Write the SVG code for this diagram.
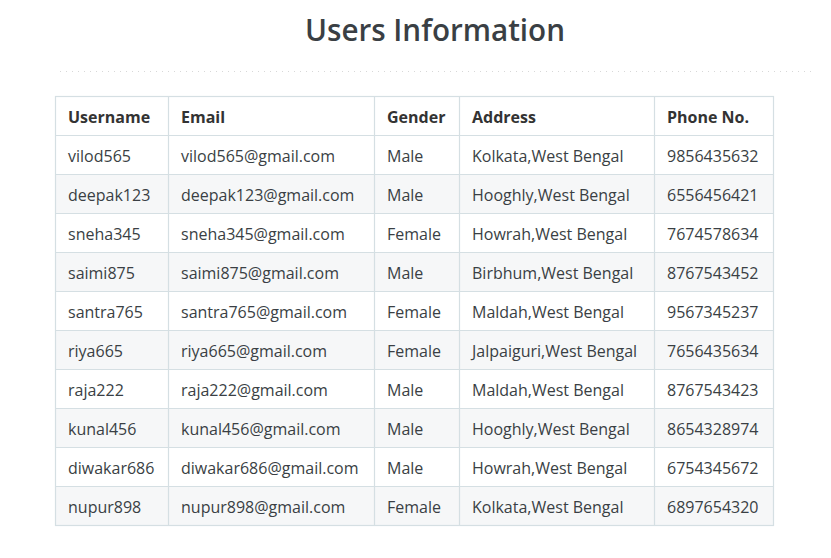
<svg xmlns="http://www.w3.org/2000/svg" width="831" height="558" viewBox="0 0 831 558">
<style>
.t{font-family:"Open Sans","Liberation Sans",sans-serif;font-size:16px;fill:#3a3f44}
.h{font-family:"Open Sans","Liberation Sans",sans-serif;font-size:16px;font-weight:700;fill:#333}
.title{font-family:"Open Sans","Liberation Sans",sans-serif;font-size:30px;font-weight:600;fill:#3a3f44}
.stripe{fill:#f6f7f8}
.grid{stroke:#d5dfe3;stroke-width:1.2;fill:none}
</style>
<rect width="831" height="558" fill="#ffffff"/>
<text class="title" x="435" y="41" text-anchor="middle" textLength="260" lengthAdjust="spacingAndGlyphs">Users Information</text>
<line x1="60" y1="71.5" x2="812" y2="71.5" stroke="#d8d8d8" stroke-width="1" stroke-dasharray="1,5"/>
<g id="stripes">
<rect class="stripe" x="55" y="175" width="718" height="39"/>
<rect class="stripe" x="55" y="253" width="718" height="39"/>
<rect class="stripe" x="55" y="331" width="718" height="39"/>
<rect class="stripe" x="55" y="409" width="718" height="39"/>
<rect class="stripe" x="55" y="487" width="718" height="39"/>
</g>
<g id="grid" class="grid">
<rect x="55.5" y="96.5" width="718" height="429"/>
<path d="M168.5 96.5V525.5M374.5 96.5V525.5M459.5 96.5V525.5M654.5 96.5V525.5"/>
<path d="M55.5 135.5H773.5M55.5 174.5H773.5M55.5 213.5H773.5M55.5 252.5H773.5M55.5 291.5H773.5M55.5 330.5H773.5M55.5 369.5H773.5M55.5 408.5H773.5M55.5 447.5H773.5M55.5 486.5H773.5"/>
</g>
<g id="header">
<text class="h" x="68" y="123">Username</text>
<text class="h" x="181" y="123">Email</text>
<text class="h" x="387" y="123">Gender</text>
<text class="h" x="472" y="123">Address</text>
<text class="h" x="667" y="123">Phone No.</text>
</g>
<g id="row1"><text class="t" x="68" y="162">vilod565</text><text class="t" x="181" y="162">vilod565@gmail.com</text><text class="t" x="387" y="162">Male</text><text class="t" x="472" y="162">Kolkata,West Bengal</text><text class="t" x="667" y="162">9856435632</text></g>
<g id="row2"><text class="t" x="68" y="201">deepak123</text><text class="t" x="181" y="201">deepak123@gmail.com</text><text class="t" x="387" y="201">Male</text><text class="t" x="472" y="201">Hooghly,West Bengal</text><text class="t" x="667" y="201">6556456421</text></g>
<g id="row3"><text class="t" x="68" y="240">sneha345</text><text class="t" x="181" y="240">sneha345@gmail.com</text><text class="t" x="387" y="240">Female</text><text class="t" x="472" y="240">Howrah,West Bengal</text><text class="t" x="667" y="240">7674578634</text></g>
<g id="row4"><text class="t" x="68" y="279">saimi875</text><text class="t" x="181" y="279">saimi875@gmail.com</text><text class="t" x="387" y="279">Male</text><text class="t" x="472" y="279">Birbhum,West Bengal</text><text class="t" x="667" y="279">8767543452</text></g>
<g id="row5"><text class="t" x="68" y="318">santra765</text><text class="t" x="181" y="318">santra765@gmail.com</text><text class="t" x="387" y="318">Female</text><text class="t" x="472" y="318">Maldah,West Bengal</text><text class="t" x="667" y="318">9567345237</text></g>
<g id="row6"><text class="t" x="68" y="357">riya665</text><text class="t" x="181" y="357">riya665@gmail.com</text><text class="t" x="387" y="357">Female</text><text class="t" x="472" y="357">Jalpaiguri,West Bengal</text><text class="t" x="667" y="357">7656435634</text></g>
<g id="row7"><text class="t" x="68" y="396">raja222</text><text class="t" x="181" y="396">raja222@gmail.com</text><text class="t" x="387" y="396">Male</text><text class="t" x="472" y="396">Maldah,West Bengal</text><text class="t" x="667" y="396">8767543423</text></g>
<g id="row8"><text class="t" x="68" y="435">kunal456</text><text class="t" x="181" y="435">kunal456@gmail.com</text><text class="t" x="387" y="435">Male</text><text class="t" x="472" y="435">Hooghly,West Bengal</text><text class="t" x="667" y="435">8654328974</text></g>
<g id="row9"><text class="t" x="68" y="474">diwakar686</text><text class="t" x="181" y="474">diwakar686@gmail.com</text><text class="t" x="387" y="474">Male</text><text class="t" x="472" y="474">Howrah,West Bengal</text><text class="t" x="667" y="474">6754345672</text></g>
<g id="row10"><text class="t" x="68" y="513">nupur898</text><text class="t" x="181" y="513">nupur898@gmail.com</text><text class="t" x="387" y="513">Female</text><text class="t" x="472" y="513">Kolkata,West Bengal</text><text class="t" x="667" y="513">6897654320</text></g>
</svg>
